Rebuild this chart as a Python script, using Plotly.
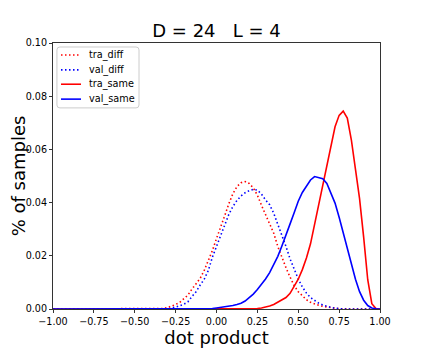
import plotly.graph_objects as go

# shared x grid (dot product)
x = [-1.0, -0.35, -0.325, -0.3, -0.275, -0.25, -0.225, -0.2, -0.175, -0.15, -0.125,
     -0.1, -0.075, -0.05, -0.025, 0.0, 0.025, 0.05, 0.075, 0.1, 0.125,
     0.15, 0.175, 0.2, 0.225, 0.25, 0.275, 0.3, 0.325, 0.35, 0.375,
     0.4, 0.425, 0.45, 0.475, 0.5, 0.525, 0.55, 0.575, 0.6, 0.625,
     0.65, 0.675, 0.7, 0.725, 0.75, 0.775, 0.8, 0.825, 0.85, 0.875,
     0.9, 0.925, 0.95, 0.975, 1.0]

tra_diff = [0, 0, 0.0002, 0.0005, 0.001, 0.0017, 0.0025, 0.0037, 0.0052, 0.0075, 0.0093,
            0.0115, 0.0145, 0.018, 0.022, 0.0265, 0.0305, 0.035, 0.0395, 0.0433, 0.046,
            0.0475, 0.0479, 0.0472, 0.0455, 0.0428, 0.039, 0.0355, 0.0322, 0.0285, 0.0235,
            0.0192, 0.0155, 0.012, 0.0088, 0.0065, 0.0048, 0.0035, 0.0025, 0.0019, 0.0014,
            0.001, 0.0007, 0.0005, 0.0003, 0.0001, 0, 0, 0, 0, 0,
            0, 0, 0, 0, 0]

val_diff = [0, 0, 0, 0, 0.0003, 0.0007, 0.0012, 0.0018, 0.0027, 0.0047, 0.0065,
            0.009, 0.0112, 0.0145, 0.0195, 0.0235, 0.0275, 0.0315, 0.0355, 0.0385, 0.0408,
            0.0425, 0.0437, 0.0445, 0.045, 0.0447, 0.0432, 0.041, 0.0392, 0.036, 0.032,
            0.0282, 0.0235, 0.0188, 0.0148, 0.0113, 0.0083, 0.006, 0.0043, 0.0031, 0.0022,
            0.0015, 0.001, 0.0006, 0.0003, 0.0001, 0, 0, 0, 0, 0,
            0, 0, 0, 0, 0]

tra_same = [0, 0, 0, 0, 0, 0, 0, 0, 0, 0, 0,
            0, 0, 0, 0, 0, 0, 0, 0, 0, 0,
            0, 0, 0, 0.0001, 0.0002, 0.0004, 0.0007, 0.0011, 0.0017, 0.0025,
            0.0032, 0.0043, 0.0059, 0.0085, 0.0112, 0.0148, 0.0192, 0.0245, 0.032, 0.0395,
            0.0465, 0.0535, 0.061, 0.0685, 0.0728, 0.0744, 0.0718, 0.0635, 0.0525, 0.0415,
            0.027, 0.011, 0.002, 0.0002, 0]

val_same = [0, 0, 0, 0, 0, 0, 0, 0, 0, 0, 0,
            0, 0.0001, 0.0001, 0.0002, 0.0004, 0.0006, 0.0008, 0.001, 0.0013, 0.0017,
            0.0022, 0.003, 0.0042, 0.0056, 0.0073, 0.0092, 0.0113, 0.0137, 0.0165, 0.0198,
            0.0237, 0.0282, 0.032, 0.0362, 0.0405, 0.0438, 0.0462, 0.0485, 0.0498, 0.0495,
            0.049, 0.0472, 0.0438, 0.0398, 0.0345, 0.0288, 0.023, 0.0168, 0.0112, 0.0065,
            0.0033, 0.0013, 0.0004, 0.0001, 0]

x_ticks = [-1.0, -0.75, -0.5, -0.25, 0.0, 0.25, 0.5, 0.75, 1.0]
y_ticks = [0.0, 0.02, 0.04, 0.06, 0.08, 0.10]

names = ["tra_diff", "val_diff", "tra_same", "val_same"]
series = [tra_diff, val_diff, tra_same, val_same]
colors = ["red", "blue", "red", "blue"]
dotted = "1.5px,2.5px"
dashes = [dotted, dotted, "solid", "solid"]

fig = go.Figure()
for name, ys, col, dash in zip(names, series, colors, dashes):
    fig.add_trace(go.Scatter(x=x, y=ys, mode="lines", name=name,
                             line=dict(color=col, width=1.6, dash=dash)))

# matplotlib-like legend (plotly's own legend rows are too tall)
rx, ry = 0.009, 0.011
bx0, bx1, by0, by1 = 0.012, 0.263, 0.756, 0.985
box = (f"M {bx0+rx},{by0} L {bx1-rx},{by0} Q {bx1},{by0} {bx1},{by0+ry} "
       f"L {bx1},{by1-ry} Q {bx1},{by1} {bx1-rx},{by1} L {bx0+rx},{by1} "
       f"Q {bx0},{by1} {bx0},{by1-ry} L {bx0},{by0+ry} Q {bx0},{by0} {bx0+rx},{by0} Z")
fig.add_shape(type="path", path=box, xref="paper", yref="paper",
              line=dict(color="#cccccc", width=1), fillcolor="rgba(255,255,255,0.8)")
row_y = [0.955, 0.899, 0.845, 0.789]
for name, col, dash, yy in zip(names, colors, dashes, row_y):
    fig.add_shape(type="line", xref="paper", yref="paper", x0=0.0245, x1=0.0856,
                  y0=yy, y1=yy, line=dict(color=col, width=1.6, dash=dash))
    fig.add_annotation(text=name, xref="paper", yref="paper", x=0.105, y=yy,
                       xanchor="left", yanchor="middle", showarrow=False,
                       font=dict(family="DejaVu Sans", size=9.7, color="black"))

axis_style = dict(showline=True, linecolor="#333333", linewidth=1, mirror=True,
                  ticks="outside", ticklen=3, tickcolor="#333333", showgrid=False,
                  zeroline=False, tickformat=".2f", automargin=False,
                  tickfont=dict(family="DejaVu Sans", size=9.6, color="black"))

# the page body has an 8px margin, so the figure is drawn 8px smaller
fig.update_layout(
    width=415, height=345,
    margin=dict(l=45, r=43, t=35, b=44),
    paper_bgcolor="white", plot_bgcolor="white",
    showlegend=False,
    title=dict(text="D = 24   L = 4", x=0.5, xanchor="center",
               xref="paper", yref="container", y=0.933, yanchor="middle",
               automargin=False,
               font=dict(family="DejaVu Sans", size=18, color="black")),
    xaxis=dict(range=[-1, 1], tickvals=x_ticks,
               title=dict(text="dot product", standoff=2,
                          font=dict(family="DejaVu Sans", size=18, color="black")),
               **axis_style),
    yaxis=dict(range=[0, 0.1], tickvals=y_ticks,
               title=dict(text="% of samples", standoff=2,
                          font=dict(family="DejaVu Sans", size=18, color="black")),
               **axis_style),
)

fig.write_html("out.html")
